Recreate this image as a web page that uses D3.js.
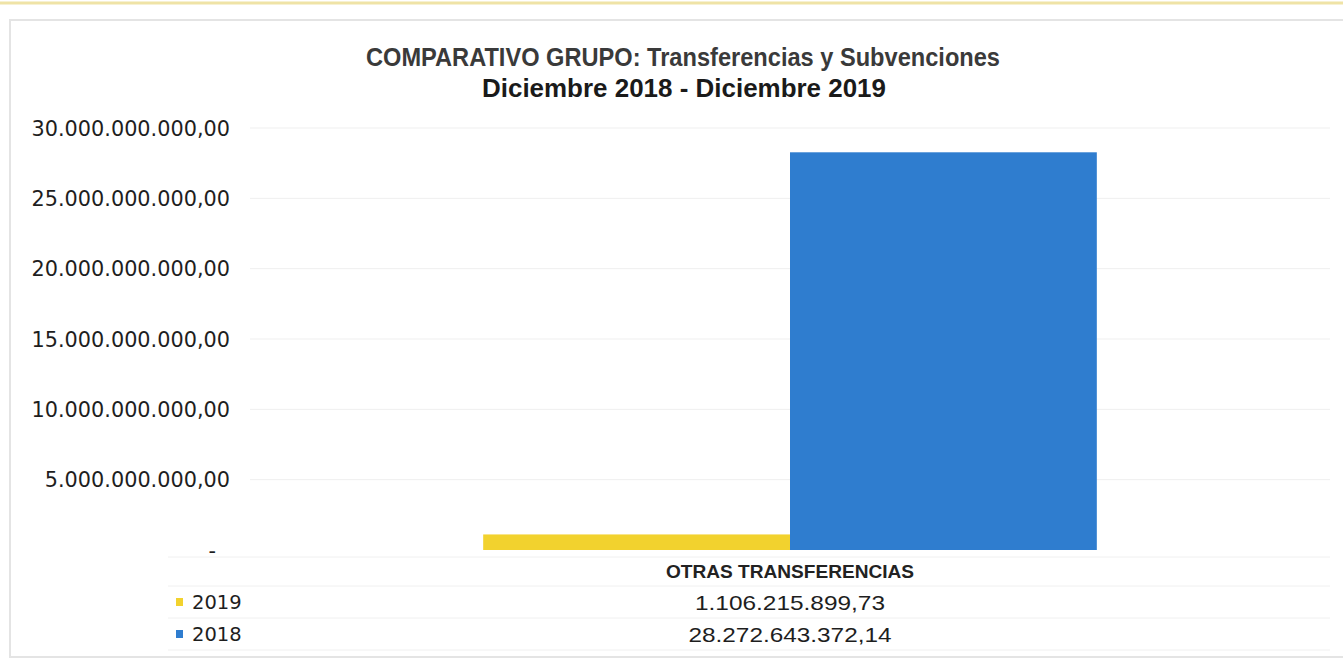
<!DOCTYPE html>
<html><head><meta charset="utf-8">
<script src="https://cdn.jsdelivr.net/npm/d3@7"></script>
<style>
body{margin:0;background:#fff;}
svg{display:block;}
</style></head>
<body>
<svg id="chart" width="1343" height="660"></svg>
<script>
const categories = ["OTRAS TRANSFERENCIAS"];
const seriesNames = ["2019", "2018"];
const values2019 = [1106215899.73];
const values2018 = [28272643372.14];
const valueLabels2019 = ["1.106.215.899,73"];
const valueLabels2018 = ["28.272.643.372,14"];
const yTicks = [0, 5e9, 10e9, 15e9, 20e9, 25e9, 30e9];
const titleLines = ["COMPARATIVO GRUPO: Transferencias y Subvenciones", "Diciembre 2018 - Diciembre 2019"];
const colors = {"2019": "#f2d22e", "2018": "#2f7dcf"};

const seriesData = {"2019": values2019, "2018": values2018};
const seriesLabels = {"2019": valueLabels2019, "2018": valueLabels2018};

const svg = d3.select("#chart");

// page artifacts: top yellowish line and chart box
svg.append("line").attr("x1",0).attr("x2",1343).attr("y1",3).attr("y2",3)
  .attr("stroke","#efe3a6").attr("stroke-width",3);
svg.append("rect").attr("x",10).attr("y",20).attr("width",1340).attr("height",637)
  .attr("fill","none").attr("stroke","#e4e4e4").attr("stroke-width",2);

const y = d3.scaleLinear().domain([0, 30e9]).range([550, 128]);
const x = d3.scaleBand().domain(categories).range([250, 1330]).paddingInner(0).paddingOuter(0.38);
const xs = d3.scaleBand().domain(seriesNames).range([0, x.bandwidth()]).padding(0);

// gridlines
svg.append("g").selectAll("line").data(yTicks.slice(1)).join("line")
  .attr("x1", 250).attr("x2", 1330)
  .attr("y1", d => y(d)).attr("y2", d => y(d))
  .attr("stroke", "#efefef").attr("stroke-width", 1);

// y axis labels
const fmt = v => v === 0 ? "-" : d3.formatLocale({decimal:",", thousands:".", grouping:[3]}).format(",.2f")(v);
const yAxis = d3.axisLeft(y).tickValues(yTicks).tickFormat(fmt).tickSize(0).tickPadding(0);
const yg = svg.append("g").attr("transform","translate(230,0)").call(yAxis);
yg.select(".domain").remove();
yg.selectAll("text").attr("font-family","DejaVu Sans, sans-serif").attr("font-size",20.8)
  .attr("fill","#1e1e1e").attr("dy","0.35em");
yg.selectAll(".tick").filter(d => d === 0).select("text").attr("x", -14);

// bars
const g = svg.append("g");
categories.forEach((c, i) => {
  seriesNames.forEach(s => {
    const v = seriesData[s][i];
    g.append("rect")
      .attr("x", x(c) + xs(s))
      .attr("y", y(v))
      .attr("width", xs.bandwidth())
      .attr("height", y(0) - y(v))
      .attr("fill", colors[s]);
  });
});

// data table lines
[557, 586, 618, 650].forEach(yy => {
  svg.append("line").attr("x1", 168).attr("x2", 1330).attr("y1", yy).attr("y2", yy)
    .attr("stroke", "#f0f0f0").attr("stroke-width", 1);
});

// category label
categories.forEach(c => {
  svg.append("text").attr("x", x(c) + x.bandwidth()/2).attr("y", 571).attr("dy","0.35em")
    .attr("text-anchor","middle").attr("font-family","Liberation Sans Narrow, Arial Narrow, sans-serif")
    .attr("font-size",19).attr("fill","#222").attr("font-weight","bold")
    .attr("textLength", 248).attr("lengthAdjust","spacingAndGlyphs").text(c);
});

// rows
const rowY = {"2019": 602, "2018": 634};
seriesNames.forEach(s => {
  svg.append("rect").attr("x", 176).attr("y", rowY[s] - 4).attr("width", 7).attr("height", 8).attr("fill", colors[s]);
  svg.append("text").attr("x", 192).attr("y", rowY[s]).attr("dy","0.35em")
    .attr("font-family","DejaVu Sans, sans-serif").attr("font-size",19.5).attr("fill","#1e1e1e").text(s);
  categories.forEach((c, i) => {
    svg.append("text").attr("x", x(c) + x.bandwidth()/2).attr("y", rowY[s] + 1).attr("dy","0.35em")
      .attr("text-anchor","middle").attr("font-family","Liberation Sans Narrow, Arial Narrow, sans-serif")
      .attr("font-size",21).attr("fill","#1e1e1e")
      .attr("textLength", s === "2019" ? 190 : 203).attr("lengthAdjust","spacingAndGlyphs")
      .text(seriesLabels[s][i]);
  });
});

// title
svg.append("text").attr("x", 683).attr("y", 57).attr("dy","0.35em").attr("text-anchor","middle")
  .attr("font-family","Liberation Sans Narrow, Arial Narrow, sans-serif").attr("font-weight","bold")
  .attr("font-size",25).attr("fill","#3a3a3a")
  .attr("textLength", 634).attr("lengthAdjust","spacingAndGlyphs").text(titleLines[0]);
svg.append("text").attr("x", 684).attr("y", 88).attr("dy","0.35em").attr("text-anchor","middle")
  .attr("font-family","Liberation Sans Narrow, Arial Narrow, sans-serif").attr("font-weight","bold")
  .attr("font-size",25).attr("fill","#1a1a1a")
  .attr("textLength", 404).attr("lengthAdjust","spacingAndGlyphs").text(titleLines[1]);
</script>
</body></html>
